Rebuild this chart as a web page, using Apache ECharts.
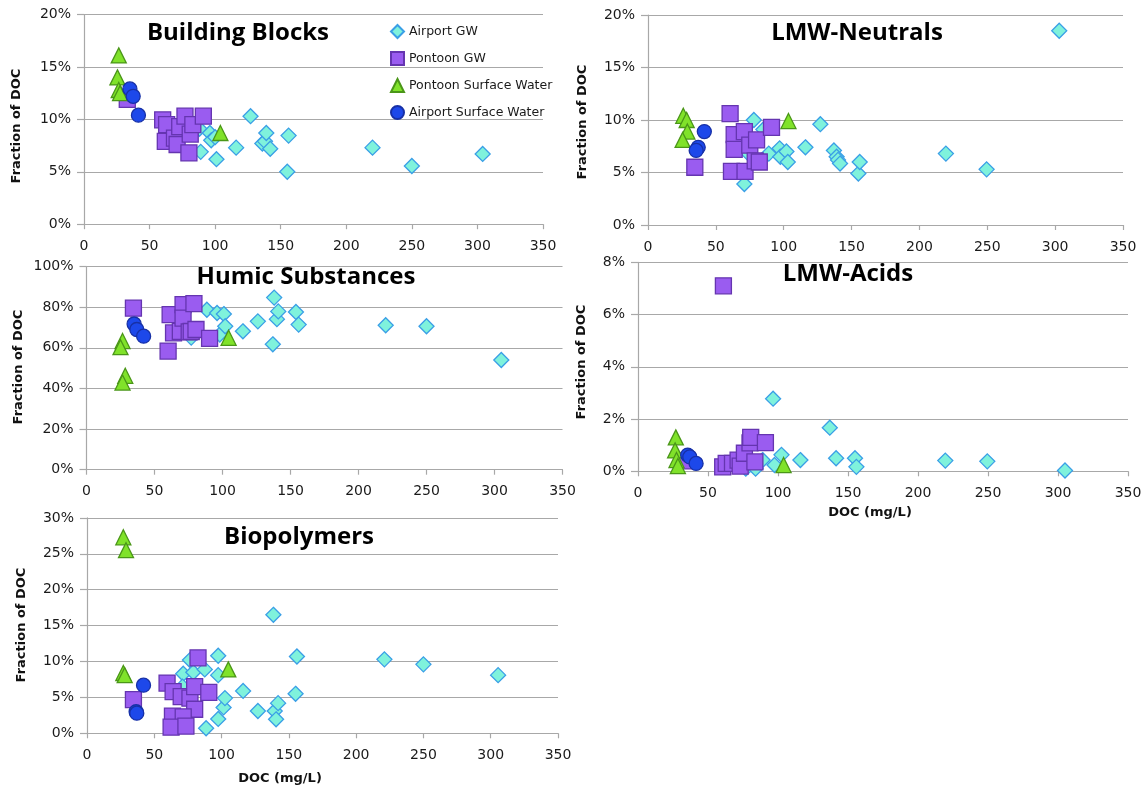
<!DOCTYPE html>
<html>
<head>
<meta charset="utf-8">
<script src="https://cdn.jsdelivr.net/npm/echarts@6/dist/echarts.min.js"></script>
<style>
  html, body { margin: 0; padding: 0; background: #ffffff; }
  #chart { width: 1146px; height: 791px; }
</style>
</head>
<body>
<div id="chart"></div>
<script>
// ---- series names (legend order = drawing order) ----
const seriesNames = ['Airport GW', 'Pontoon GW', 'Pontoon Surface Water', 'Airport Surface Water'];

// ---- panel titles ----
const panelTitles = ['Building Blocks', 'LMW-Neutrals', 'Humic Substances', 'LMW-Acids', 'Biopolymers'];

// ---- axis ranges: [max, interval] for each panel's y axis (percent) ----
const yMax = [20, 20, 100, 8, 30];
const yStep = [5, 5, 20, 2, 5];
const xMax = 350, xStep = 50;

// ---- data: [DOC mg/L, fraction of DOC %] ----
// Building Blocks
const bbAirportGW = [[80,9.3],[88,9.1],[89,6.9],[96,8.7],[97,8.0],[100,8.3],[101,6.2],[116,7.3],[127,10.3],[136,7.7],[138,7.9],[139,8.7],[142,7.2],[155,5.0],[156,8.45],[220,7.3],[250,5.55],[304,6.7]];
const bbPontoonGW = [[33,11.9],[60,9.95],[63,9.5],[62,7.9],[69,8.2],[71,7.6],[73,9.3],[77,10.3],[80,6.8],[81,8.6],[83,9.5],[91,10.3]];
const bbPontoonSW = [[26.5,16.1],[25.5,14.0],[26.5,12.8],[27.5,12.5],[104,8.7]];
const bbAirportSW = [[35,12.9],[37.5,12.2],[41.5,10.4]];

// LMW-Neutrals
const lnAirportGW = [[71,3.9],[74,6.8],[78,10.0],[85,9.1],[89,6.8],[97,7.3],[97.5,6.5],[102,7.0],[103,6.0],[116,7.4],[127,9.6],[137,7.1],[139,6.5],[140,6.2],[141.5,5.85],[155,4.9],[156,6.0],[219.5,6.8],[249.5,5.3],[303,18.5]];
const lnPontoonGW = [[34.5,5.5],[60.5,10.6],[63.5,8.6],[63.5,7.2],[61.5,5.1],[71,8.9],[75,7.6],[80,8.1],[91,9.3],[71.5,5.1],[79,6.1],[82,6.0]];
const lnPontoonSW = [[26,10.4],[28.5,10.0],[29,8.9],[25.5,8.1],[103.5,9.9]];
const lnAirportSW = [[41.5,8.9],[37,7.4],[35.5,7.1]];

// Humic Substances
const hsAirportGW = [[77,65],[88.5,78.7],[96,77.1],[98,66.5],[101,76.6],[102,70.6],[115,68.1],[126,73],[137,61.7],[138,84.7],[140,74.1],[141,77.9],[154,77.6],[156,71.4],[220,71.1],[250,70.6],[305,54]];
const hsPontoonGW = [[34.5,79.5],[60,58.4],[61.5,76.3],[64,67.3],[69,68.1],[71,81.2],[71,74.6],[75.5,67.8],[77,68],[79,81.7],[80.5,69],[90.5,64.6]];
const hsPontoonSW = [[26.5,63.3],[25,60.3],[28.5,46.2],[26.5,42.9],[104.5,64.9]];
const hsAirportSW = [[35,71.7],[37,69],[42,65.7]];

// LMW-Acids
const laAirportGW = [[77,0.1],[84,0.1],[89,0.43],[96.5,2.78],[97.5,0.24],[102.5,0.63],[116,0.43],[137,1.67],[141.5,0.5],[155,0.5],[156,0.17],[219.5,0.41],[249.5,0.38],[305,0.03]];
const laPontoonGW = [[35,0.4],[61,7.1],[60.5,0.17],[63,0.3],[67.5,0.3],[71.5,0.43],[73,0.2],[76,0.69],[80,1.09],[80.5,1.3],[83.5,0.36],[91,1.1]];
const laPontoonSW = [[27,1.3],[26.5,0.8],[27.5,0.43],[28.5,0.2],[104,0.24]];
const laAirportSW = [[35.5,0.62],[37,0.55],[41.5,0.3]];

// Biopolymers
const bpAirportGW = [[71.5,8.3],[71,6.5],[76.5,10.2],[79,8.5],[87.5,8.9],[88.5,0.7],[97.5,10.8],[97.5,8.1],[97.5,2.0],[101.5,3.6],[102.5,4.9],[116,5.9],[127,3.1],[138.5,16.5],[139.5,3.1],[140.5,1.95],[142,4.2],[155,5.5],[156,10.7],[221,10.3],[250,9.6],[305.5,8.1]];
const bpPontoonGW = [[34.5,4.7],[59.5,7.0],[64,5.8],[70,5.1],[76.5,4.9],[80,6.5],[82.5,10.5],[90.5,5.7],[80,3.35],[63.5,2.4],[71.5,2.3],[62.5,0.85],[73.5,1.0]];
const bpPontoonSW = [[27,27.3],[29,25.5],[27,8.4],[28,8.1],[105,8.9]];
const bpAirportSW = [[42,6.7],[36.5,3.0],[37,2.8]];

const panelData = [
  [bbAirportGW, bbPontoonGW, bbPontoonSW, bbAirportSW],
  [lnAirportGW, lnPontoonGW, lnPontoonSW, lnAirportSW],
  [hsAirportGW, hsPontoonGW, hsPontoonSW, hsAirportSW],
  [laAirportGW, laPontoonGW, laPontoonSW, laAirportSW],
  [bpAirportGW, bpPontoonGW, bpPontoonSW, bpAirportSW]
];

// ---- layout of the five plot areas ----
const grids = [
  { left: 84,   top: 14.5,  width: 459, height: 209.7 },
  { left: 648,  top: 15,    width: 475, height: 210 },
  { left: 86.5, top: 266.5, width: 476, height: 203.2 },
  { left: 638,  top: 262.3, width: 490, height: 209 },
  { left: 87,   top: 517.9, width: 471, height: 215.4 }
];
const titlePos = [[238, 33], [857, 33], [306, 277], [848, 274], [299, 537]];
const yNamePos = [[17, 126], [583, 122], [19, 367], [582, 362], [22, 625]];
const xNamePos = [null, null, null, [870, 513], [280, 779]];

// ---- marker styles ----
const markerStyles = [
  { symbol: 'diamond', size: 15, color: '#7ff2dc', border: '#3a9fe6' },
  { symbol: 'rect',    size: 16, color: '#9a5cf0', border: '#6535b0' },
  { symbol: 'triangle',size: 15, color: '#80e22a', border: '#4a9618' },
  { symbol: 'circle',  size: 14, color: '#1d48ea', border: '#1730a6' }
];

const tickFont = { fontFamily: 'DejaVu Sans', fontSize: 14, color: '#1a1a1a' };
const gridLineColor = '#a8a8a8';

const xAxes = [], yAxes = [], series = [], graphics = [];
grids.forEach((g, i) => {
  xAxes.push({
    type: 'value', gridIndex: i, min: 0, max: xMax, interval: xStep,
    axisLine: { show: true, onZero: false, lineStyle: { color: gridLineColor, width: 1.2 } },
    axisTick: { show: true, length: 5, lineStyle: { color: gridLineColor, width: 1.2 } },
    splitLine: { show: false },
    axisLabel: Object.assign({ margin: 15 }, tickFont)
  });
  yAxes.push({
    type: 'value', gridIndex: i, min: 0, max: yMax[i], interval: yStep[i],
    axisLine: { show: true, lineStyle: { color: gridLineColor, width: 1.2 } },
    axisTick: { show: true, length: 7, lineStyle: { color: gridLineColor, width: 1.2 } },
    splitLine: { show: true, lineStyle: { color: gridLineColor, width: 1.2 } },
    axisLabel: Object.assign({ margin: 13, formatter: '{value}%' }, tickFont)
  });
  panelData[i].forEach((data, s) => {
    const m = markerStyles[s];
    series.push({
      type: 'scatter', name: seriesNames[s], xAxisIndex: i, yAxisIndex: i,
      data: data, symbol: m.symbol, symbolSize: m.size, clip: false,
      itemStyle: { color: m.color, borderColor: m.border, borderWidth: 1.3, opacity: 1 },
      emphasis: { disabled: true }
    });
  });
  graphics.push({
    type: 'text', x: titlePos[i][0], y: titlePos[i][1],
    style: { text: panelTitles[i], fontFamily: 'Open Sans', fontWeight: 'bold', fontSize: 24,
             fill: '#000', align: 'center', verticalAlign: 'middle' }
  });
  graphics.push({
    type: 'text', x: yNamePos[i][0], y: yNamePos[i][1], rotation: Math.PI / 2,
    style: { text: 'Fraction of DOC', fontFamily: 'DejaVu Sans', fontWeight: 'bold', fontSize: 13,
             fill: '#111', align: 'center', verticalAlign: 'middle' }
  });
  if (xNamePos[i]) {
    graphics.push({
      type: 'text', x: xNamePos[i][0], y: xNamePos[i][1],
      style: { text: 'DOC (mg/L)', fontFamily: 'DejaVu Sans', fontWeight: 'bold', fontSize: 13,
               fill: '#111', align: 'center', verticalAlign: 'middle' }
    });
  }
});

const chart = echarts.init(document.getElementById('chart'), null, { renderer: 'canvas' });
chart.setOption({
  animation: false,
  backgroundColor: '#ffffff',
  grid: grids,
  xAxis: xAxes,
  yAxis: yAxes,
  series: series,
  graphic: graphics,
  legend: {
    data: seriesNames, orient: 'vertical', left: 390, top: 24, padding: 0,
    itemWidth: 13, itemHeight: 13, itemGap: 12,
    textStyle: { fontFamily: 'DejaVu Sans', fontSize: 12.5, color: '#1a1a1a' },
    selectedMode: false
  }
});
</script>
</body>
</html>
